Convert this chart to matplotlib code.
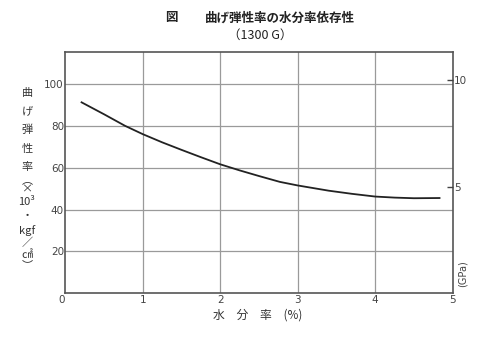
import matplotlib
matplotlib.use("Agg")
import matplotlib.pyplot as plt

plt.rcParams['font.family'] = ['Noto Sans CJK JP', 'DejaVu Sans']

# data
moisture = [0.21, 0.5, 0.77, 1.0, 1.25, 1.5, 1.75, 2.0, 2.25, 2.5, 2.77,
            3.0, 3.4, 3.7, 4.0, 4.25, 4.5, 4.83]
modulus = [91.2, 85.5, 80.0, 76.0, 72.1, 68.5, 65.0, 61.6, 58.7, 56.0, 53.2,
           51.5, 49.0, 47.5, 46.2, 45.7, 45.4, 45.5]
x_ticks = [0, 1, 2, 3, 4, 5]
y_ticks = [20, 40, 60, 80, 100]
gpa_ticks = [5, 10]
KGF_TO_GPA = 0.0980665  # (x10^3 kgf/cm2) -> GPa

ink = '#222222'
grid_c = '#9a9a9a'

fig = plt.figure(figsize=(5.0, 3.44), dpi=100)
ax = fig.add_axes([0.1306, 0.1474, 0.7748, 0.7006])

ymax = 115.1
ax.set_xlim(0, 5)
ax.set_ylim(0, ymax)

for v in y_ticks:
    ax.axhline(v, color=grid_c, lw=0.9, zorder=1)
for v in x_ticks[1:-1]:
    ax.axvline(v, color=grid_c, lw=0.9, zorder=1)

ax.plot(moisture, modulus, color=ink, lw=1.3, zorder=3,
        solid_joinstyle='round')

for s in ax.spines.values():
    s.set_color('#555555')
    s.set_linewidth(1.2)

ax.set_xticks(x_ticks)
ax.set_xticklabels([str(t) for t in x_ticks], family='DejaVu Sans')
ax.tick_params(axis='x', length=0, pad=1.5, labelsize=7.5, colors='#444444')
ax.set_yticks(y_ticks)
ax.set_yticklabels([str(t) for t in y_ticks], family='DejaVu Sans')
ax.tick_params(axis='y', length=0, pad=1, labelsize=7.5, colors='#444444')
# shift the 0 label a bit left like the original
ax.get_xticklabels()[0].set_horizontalalignment('right')

ax2 = ax.twinx()
ax2.set_ylim(0, ymax * KGF_TO_GPA)
ax2.set_yticks(gpa_ticks)
ax2.set_yticklabels([str(t) for t in gpa_ticks], family='DejaVu Sans')
ax2.tick_params(axis='y', direction='in', length=4, width=1.0, pad=1,
                labelsize=7.5, colors='#444444')
for s in ax2.spines.values():
    s.set_visible(False)

fig.text(458 / 500, 1 - 274 / 344, '(GPa)', rotation=90, ha='left', va='center',
         fontsize=7, color='#444444', family='DejaVu Sans')

# title
fig.text(171 / 500, 1 - 18 / 344, '図', ha='center', va='center', fontsize=9,
         fontweight='bold', color=ink)
fig.text(280 / 500, 1 - 18 / 344, '曲げ弾性率の水分率依存性', ha='center', va='center',
         fontsize=9, fontweight='bold', color=ink)
fig.text(260 / 500, 1 - 35 / 344, '（1300 G）', ha='center', va='center',
         fontsize=9, color=ink)

# x label
fig.text(258 / 500, 1 - 315 / 344, '水　分　率　(%)', ha='center', va='center',
         fontsize=8.5, color='#333333')

# vertical y label, one glyph per line
ylab = [('曲', 93), ('げ', 111), ('弾', 130), ('性', 149), ('率', 167),
        ('︵', 180), ('×', 189), ('10³', 202), ('・', 216), ('kgf', 231),
        ('／', 243), ('㎠', 255), ('︶', 265)]
for ch, py in ylab:
    fig.text(27 / 500, 1 - py / 344, ch, ha='center', va='center',
             fontsize=8, color='#333333')

fig.savefig('out.png', dpi=100)
